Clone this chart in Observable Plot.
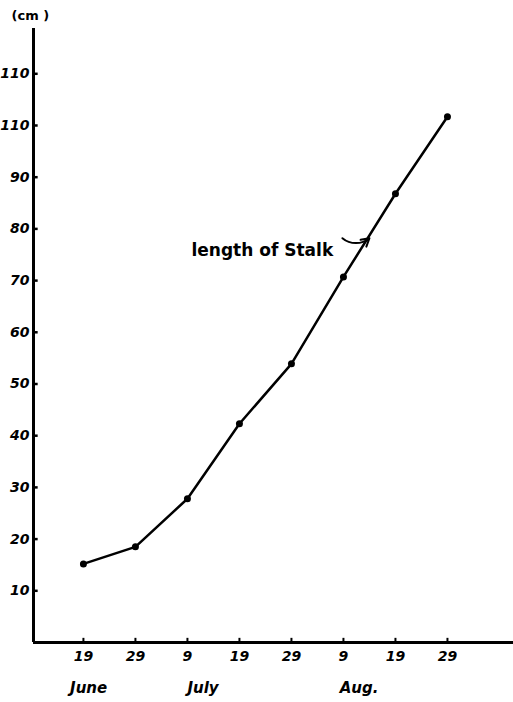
<!DOCTYPE html>
<html>
<head>
<meta charset="utf-8">
<script src="https://cdn.jsdelivr.net/npm/d3@7"></script>
<script src="https://cdn.jsdelivr.net/npm/@observablehq/plot@0.6"></script>
<style>
  html, body { margin: 0; padding: 0; background: #fff; }
  #chart svg { display: block; }
</style>
</head>
<body>
<div id="chart"></div>
<script>
// Days counted from June 19
const days = [0, 10, 20, 30, 40, 50, 60, 70];
const dayLabels = ["19", "29", "9", "19", "29", "9", "19", "29"];
const stalkLength = [15.2, 18.5, 27.8, 42.3, 53.9, 70.7, 86.8, 101.7];
const yTicks = [10, 20, 30, 40, 50, 60, 70, 80, 90, 100, 110];
const yTickLabels = ["10", "20", "30", "40", "50", "60", "70", "80", "90", "110", "110"];
const months = ["June", "July", "Aug."];
const monthPos = [1, 23, 53];
const seriesLabel = "length of Stalk";
const unitLabel = "(cm )";

const data = days.map((d, i) => ({day: d, value: stalkLength[i]}));
const xMin = -9.6, xMax = 82.7;
const font = "'DejaVu Sans', sans-serif";

const chart = Plot.plot({
  width: 513,
  height: 702,
  marginLeft: 33,
  marginRight: 0,
  marginTop: 28,
  marginBottom: 60,
  style: {fontFamily: font, background: "#fff", color: "#000"},
  x: {domain: [xMin, xMax], axis: null},
  y: {domain: [0, 118.76], axis: null},
  marks: [
    // axes lines
    Plot.ruleX([xMin], {y1: 0, y2: 118.76, stroke: "#000", strokeWidth: 3}),
    Plot.ruleY([0], {x1: xMin, x2: xMax, stroke: "#000", strokeWidth: 3}),
    // y ticks (inward)
    Plot.link(yTicks, {x1: xMin, x2: xMin + 0.8, y1: d => d, y2: d => d, stroke: "#000", strokeWidth: 2.5}),
    Plot.text(yTicks, {x: xMin, y: d => d, text: (d, i) => yTickLabels[i], textAnchor: "end", dx: -4,
      fontSize: 14, fontWeight: "bold", fontStyle: "italic"}),
    // x ticks (small, above the axis)
    Plot.link(days, {x1: d => d, x2: d => d, y1: 0, y2: 0.9, stroke: "#000", strokeWidth: 2}),
    Plot.text(days, {x: d => d, y: 0, text: (d, i) => dayLabels[i], dy: 14,
      fontSize: 14, fontWeight: "bold", fontStyle: "italic"}),
    Plot.text(months, {x: (d, i) => monthPos[i], y: -8.9, text: d => d,
      fontSize: 15, fontWeight: "bold", fontStyle: "italic"}),
    Plot.text([unitLabel], {x: -10.2, y: 121.2, text: d => d, fontSize: 13, fontWeight: "bold"}),
    // series
    Plot.line(data, {x: "day", y: "value", stroke: "#000", strokeWidth: 2.5}),
    Plot.dot(data, {x: "day", y: "value", r: 3.5, fill: "#000"}),
    // annotation
    Plot.text([seriesLabel], {x: 34.4, y: 75.9, text: d => d, fontSize: 17, fontWeight: "bold"}),
    Plot.arrow([0], {x1: 49.8, y1: 78.2, x2: 55, y2: 78.2, bend: -40, stroke: "#000", strokeWidth: 2, headLength: 7})
  ]
});
document.getElementById("chart").appendChild(chart);
</script>
</body>
</html>
